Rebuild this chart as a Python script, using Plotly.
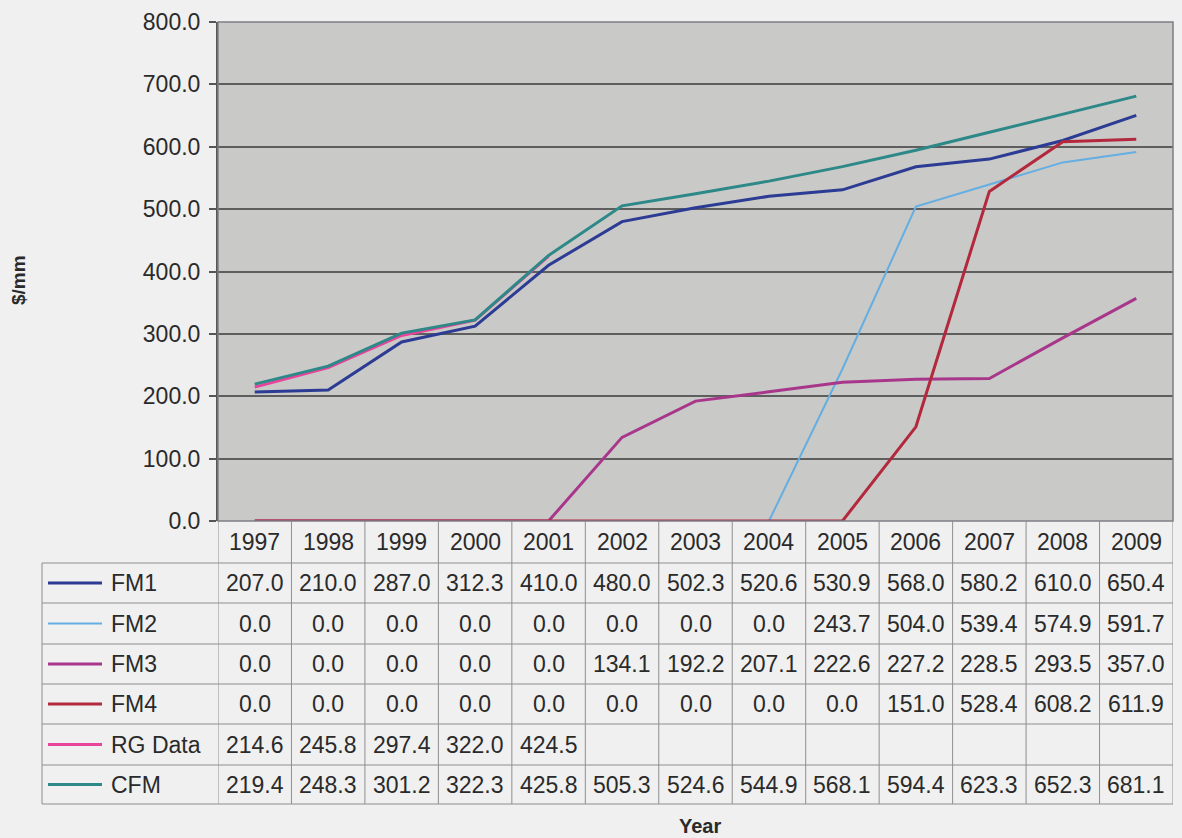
import plotly.graph_objects as go

years = [1997, 1998, 1999, 2000, 2001, 2002, 2003, 2004, 2005, 2006, 2007, 2008, 2009]

fm1 = [207.0, 210.0, 287.0, 312.3, 410.0, 480.0, 502.3, 520.6, 530.9, 568.0, 580.2, 610.0, 650.4]
fm2 = [0.0, 0.0, 0.0, 0.0, 0.0, 0.0, 0.0, 0.0, 243.7, 504.0, 539.4, 574.9, 591.7]
fm3 = [0.0, 0.0, 0.0, 0.0, 0.0, 134.1, 192.2, 207.1, 222.6, 227.2, 228.5, 293.5, 357.0]
fm4 = [0.0, 0.0, 0.0, 0.0, 0.0, 0.0, 0.0, 0.0, 0.0, 151.0, 528.4, 608.2, 611.9]
rg_data = [214.6, 245.8, 297.4, 322.0, 424.5, None, None, None, None, None, None, None, None]
cfm = [219.4, 248.3, 301.2, 322.3, 425.8, 505.3, 524.6, 544.9, 568.1, 594.4, 623.3, 652.3, 681.1]

series_names = ["FM1", "FM2", "FM3", "FM4", "RG Data", "CFM"]
series_values = [fm1, fm2, fm3, fm4, rg_data, cfm]
series_colors = ["#2c3b93", "#64aee2", "#a8378c", "#b3283c", "#e8449c", "#2d8888"]
series_widths = [3, 2, 3, 3, 3, 3]

# Page geometry (pixels)
W, H = 1182, 838
PL, PR, PT, PB = 218, 1173, 22, 521          # plot area
ROW_EDGES = [521, 563, 603, 644, 684, 724, 765, 804]  # header + 6 data rows
LEG_L = 42
FONT = "Liberation Sans, Arial, sans-serif"
TXT = "#2a2a2a"
GRID = "#8e8e8e"
FS = 23

pw, ph = PR - PL, PB - PT


def py(y):
    return (PB - y) / ph


def px(x):
    return (x - PL) / pw


fig = go.Figure()

for name, vals, col, w in zip(series_names, series_values, series_colors, series_widths):
    fig.add_trace(go.Scatter(
        x=years, y=vals, mode="lines", name=name,
        line=dict(color=col, width=w), showlegend=False,
        connectgaps=False, cliponaxis=False,
    ))

shapes = []
annotations = []

# plot border
shapes.append(dict(type="rect", xref="paper", yref="paper", x0=0, x1=1, y0=0, y1=1,
                   line=dict(color="#7d7f88", width=1.5), layer="above"))

# table: vertical column lines
for i in range(len(years) + 1):
    xv = years[0] - 0.5 + i
    shapes.append(dict(type="line", xref="x", yref="paper", x0=xv, x1=xv,
                       y0=py(ROW_EDGES[0]), y1=py(ROW_EDGES[-1]),
                       line=dict(color=GRID, width=1)))
# table: horizontal row lines
for ye in ROW_EDGES[1:]:
    shapes.append(dict(type="line", xref="paper", yref="paper",
                       x0=px(LEG_L), x1=1, y0=py(ye), y1=py(ye),
                       line=dict(color=GRID, width=1)))
# legend column left edge
shapes.append(dict(type="line", xref="paper", yref="paper", x0=px(LEG_L), x1=px(LEG_L),
                   y0=py(ROW_EDGES[1]), y1=py(ROW_EDGES[-1]),
                   line=dict(color=GRID, width=1)))

# header row: years
for yr in years:
    annotations.append(dict(x=yr, y=py((ROW_EDGES[0] + ROW_EDGES[1]) / 2), xref="x", yref="paper",
                            text=str(yr), showarrow=False, xanchor="center", yanchor="middle",
                            font=dict(family=FONT, size=FS, color=TXT)))

# data rows
for r, (name, vals, col, w) in enumerate(zip(series_names, series_values, series_colors, series_widths)):
    top, bot = ROW_EDGES[r + 1], ROW_EDGES[r + 2]
    yc = py((top + bot) / 2)
    shapes.append(dict(type="line", xref="paper", yref="paper", x0=px(48), x1=px(102),
                       y0=yc, y1=yc, line=dict(color=col, width=w)))
    annotations.append(dict(x=px(109), y=yc, xref="paper", yref="paper", text=name,
                            showarrow=False, xanchor="left", yanchor="middle",
                            font=dict(family=FONT, size=FS, color=TXT)))
    for yr, v in zip(years, vals):
        if v is None:
            continue
        annotations.append(dict(x=yr, y=yc, xref="x", yref="paper", text=f"{v:.1f}",
                                showarrow=False, xanchor="center", yanchor="middle",
                                font=dict(family=FONT, size=FS, color=TXT)))

# axis titles
annotations.append(dict(x=px(18), y=py(280), xref="paper", yref="paper", text="<b>$/mm</b>",
                        textangle=-90, showarrow=False, xanchor="center", yanchor="middle",
                        font=dict(family=FONT, size=19, color=TXT)))
annotations.append(dict(x=px(700), y=py(826), xref="paper", yref="paper", text="<b>Year</b>",
                        showarrow=False, xanchor="center", yanchor="middle",
                        font=dict(family=FONT, size=20, color=TXT)))

fig.update_layout(
    width=W, height=H,
    margin=dict(l=PL, r=W - PR, t=PT, b=H - PB, pad=0),
    paper_bgcolor="#f0f0f0",
    plot_bgcolor="#c9c9c7",
    shapes=shapes,
    annotations=annotations,
    xaxis=dict(range=[years[0] - 0.5, years[-1] + 0.5], showticklabels=False, ticks="",
               showgrid=False, zeroline=False, showline=False, fixedrange=True),
    yaxis=dict(range=[0, 800], dtick=100, tickformat=".1f", ticks="outside", ticklen=7,
               tickcolor="#555555", tickwidth=1.5,
               showgrid=True, gridcolor="#5e5e5e", gridwidth=1.5, zeroline=False,
               showline=True, linecolor="#555555", linewidth=2,
               tickfont=dict(family=FONT, size=FS, color=TXT), ticklabelstandoff=4),
)

fig.write_html("out.html")
